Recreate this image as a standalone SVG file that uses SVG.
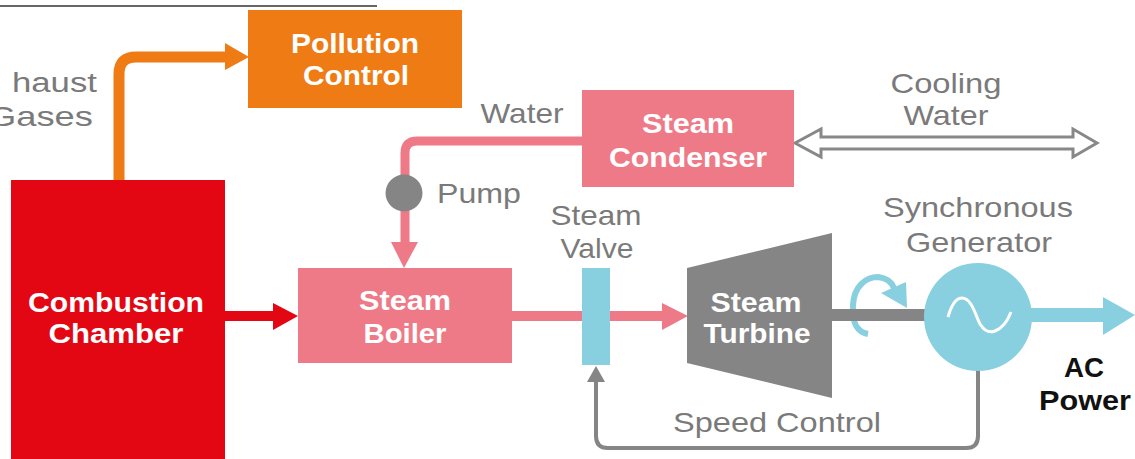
<svg xmlns="http://www.w3.org/2000/svg" width="1135" height="459" viewBox="0 0 1135 459">
<style>
.lbl{font-family:"Liberation Sans",Arial,sans-serif;font-size:28px;fill:#7a7a7a;}
.wt{font-family:"Liberation Sans",Arial,sans-serif;font-size:28px;font-weight:bold;fill:#ffffff;}
.bk{font-family:"Liberation Sans",Arial,sans-serif;font-size:28px;font-weight:bold;fill:#111111;}
.c{text-anchor:middle;}
</style>
<rect width="1135" height="459" fill="#ffffff"/>
<line x1="0" y1="6" x2="377" y2="6" stroke="#333333" stroke-width="1.5"/>
<g id="connectors">
  <path d="M119 180 V74 Q119 57 136 57 H228" fill="none" stroke="#EF7B14" stroke-width="11"/>
  <polygon points="225,43 249,57 225,70" fill="#EF7B14"/>
  <path d="M225 316 H276" fill="none" stroke="#E30613" stroke-width="10"/>
  <polygon points="273,303 298,316 273,330" fill="#E30613"/>
  <path d="M582 141 H417 Q405 141 405 153 V244" fill="none" stroke="#EF7A87" stroke-width="9"/>
  <polygon points="391,242 418,242 404,268" fill="#EF7A87"/>
  <path d="M512 316 H664" fill="none" stroke="#EF7A87" stroke-width="10"/>
  <polygon points="662,303 688,316 662,330" fill="#EF7A87"/>
  <polygon points="795,143 821,129 821,137 1073,137 1073,129 1097,143 1073,157 1073,149 821,149 821,157" fill="#ffffff" stroke="#888888" stroke-width="3" stroke-linejoin="miter"/>
  <path d="M868 334 C856 332 852 322 853 305 C854 286 866 277 878 277 C887 278 892 283 894 288" fill="none" stroke="#88CFDF" stroke-width="6"/>
  <polygon points="881,293 906,282 907,308" fill="#88CFDF"/>
  <path d="M832 315 H930" fill="none" stroke="#858585" stroke-width="12"/>
  <path d="M1028 315 H1106" fill="none" stroke="#88CFDF" stroke-width="14"/>
  <polygon points="1103,297 1135,315 1103,335" fill="#88CFDF"/>
  <path d="M978 370 V436 Q978 448 966 448 H608 Q596 448 596 436 V378" fill="none" stroke="#858585" stroke-width="4"/>
  <polygon points="587,382 596,366 605,382" fill="#858585"/>
</g>
<g id="exhaust-label">
  <text class="lbl" transform="translate(12 92) scale(1.24 1)" x="-50 -25 0" y="0">Exhaust</text>
  <text class="lbl" x="-12" y="126" textLength="105" lengthAdjust="spacingAndGlyphs">Gases</text>
</g>
<g id="pollution-control">
  <rect x="248" y="10" width="214" height="98" fill="#EF7B14"/>
  <text class="wt c" x="355" y="53" textLength="128" lengthAdjust="spacingAndGlyphs">Pollution</text>
  <text class="wt c" x="356" y="85" textLength="106" lengthAdjust="spacingAndGlyphs">Control</text>
</g>
<g id="combustion-chamber">
  <rect x="11" y="180" width="214" height="290" fill="#E30613"/>
  <text class="wt c" x="116" y="312" textLength="176" lengthAdjust="spacingAndGlyphs">Combustion</text>
  <text class="wt c" x="116" y="343" textLength="135" lengthAdjust="spacingAndGlyphs">Chamber</text>
</g>
<g id="water-label">
  <text class="lbl c" x="522" y="123" textLength="83" lengthAdjust="spacingAndGlyphs">Water</text>
</g>
<g id="steam-condenser">
  <rect x="582" y="90" width="212" height="97" fill="#EF7A87"/>
  <text class="wt c" x="688" y="133" textLength="92" lengthAdjust="spacingAndGlyphs">Steam</text>
  <text class="wt c" x="688" y="167" textLength="158" lengthAdjust="spacingAndGlyphs">Condenser</text>
</g>
<g id="cooling-water-label">
  <text class="lbl c" x="946" y="93" textLength="111" lengthAdjust="spacingAndGlyphs">Cooling</text>
  <text class="lbl c" x="946" y="125" textLength="85" lengthAdjust="spacingAndGlyphs">Water</text>
</g>
<g id="pump">
  <circle cx="404" cy="193" r="18.5" fill="#858585"/>
  <text class="lbl" x="437" y="203" textLength="84" lengthAdjust="spacingAndGlyphs">Pump</text>
</g>
<g id="steam-boiler">
  <rect x="298" y="268" width="214" height="95" fill="#EF7A87"/>
  <text class="wt c" x="405" y="310" textLength="92" lengthAdjust="spacingAndGlyphs">Steam</text>
  <text class="wt c" x="405" y="343" textLength="83" lengthAdjust="spacingAndGlyphs">Boiler</text>
</g>
<g id="steam-valve">
  <rect x="582" y="268" width="28" height="97" fill="#88CFDF"/>
  <text class="lbl c" x="596" y="225" textLength="91" lengthAdjust="spacingAndGlyphs">Steam</text>
  <text class="lbl c" x="597" y="258" textLength="73" lengthAdjust="spacingAndGlyphs">Valve</text>
</g>
<g id="steam-turbine">
  <polygon points="687,268 832,233 832,398 687,363" fill="#858585"/>
  <text class="wt c" x="756" y="312" textLength="91" lengthAdjust="spacingAndGlyphs">Steam</text>
  <text class="wt c" x="757" y="343" textLength="107" lengthAdjust="spacingAndGlyphs">Turbine</text>
</g>
<g id="synchronous-generator">
  <circle cx="978" cy="317" r="54" fill="#88CFDF"/>
  <path d="M948 317 C952 303 957 298 962 298 C972 298 976 317 980 324 C985 332 990 333 995 331 C1003 328 1008 320 1011 312" fill="none" stroke="#ffffff" stroke-width="3"/>
  <text class="lbl c" x="978" y="217" textLength="190" lengthAdjust="spacingAndGlyphs">Synchronous</text>
  <text class="lbl c" x="979" y="252" textLength="146" lengthAdjust="spacingAndGlyphs">Generator</text>
</g>
<g id="ac-power">
  <text class="bk c" x="1084" y="377" textLength="40" lengthAdjust="spacingAndGlyphs">AC</text>
  <text class="bk c" x="1085" y="410" textLength="92" lengthAdjust="spacingAndGlyphs">Power</text>
</g>
<g id="speed-control-label">
  <text class="lbl c" x="777" y="432" textLength="208" lengthAdjust="spacingAndGlyphs">Speed Control</text>
</g>
</svg>
